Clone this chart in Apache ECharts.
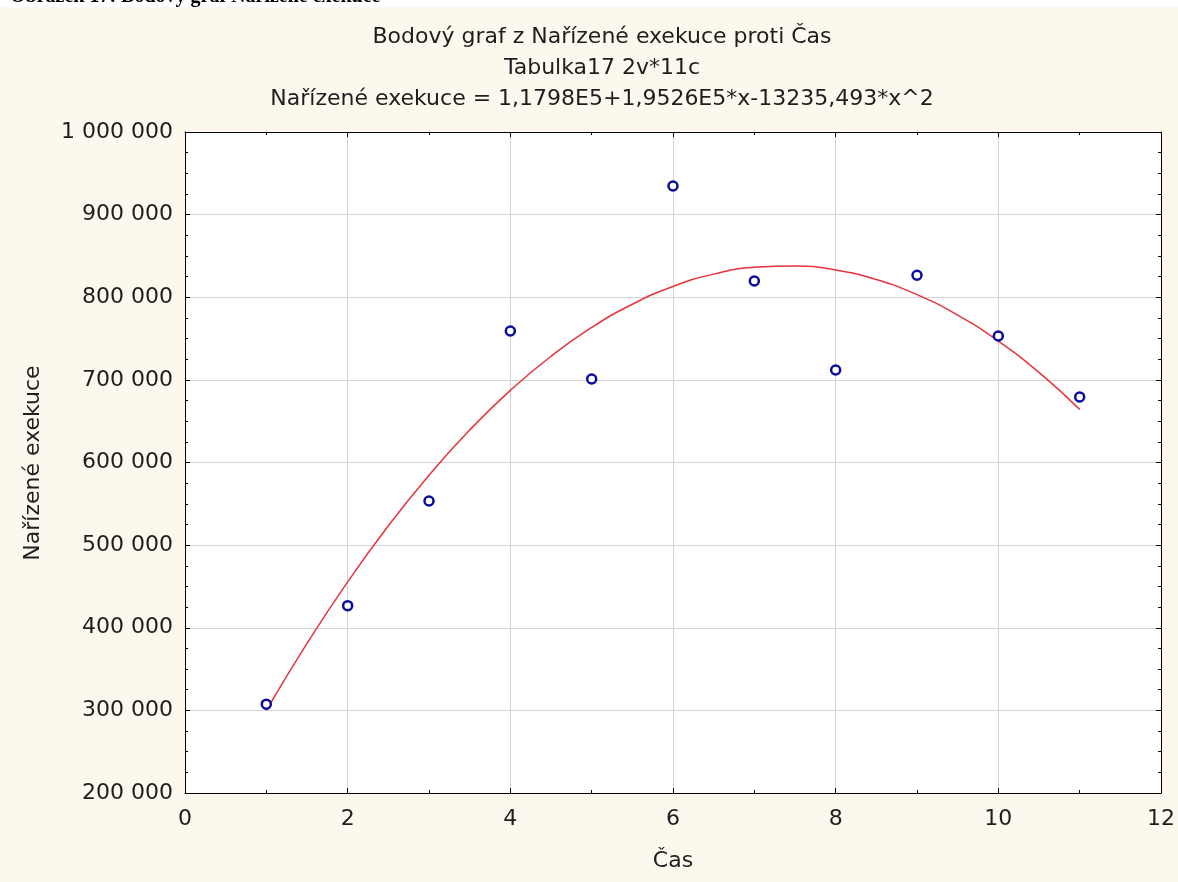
<!DOCTYPE html>
<html>
<head>
<meta charset="utf-8">
<script src="https://cdn.jsdelivr.net/npm/echarts@6/dist/echarts.min.js"></script>
<style>
html,body{margin:0;padding:0;background:#fff;}
#chart{width:1178px;height:882px;}
</style>
</head>
<body>
<div id="chart"></div>
<script>
// Data
const casValues = [1, 2, 3, 4, 5, 6, 7, 8, 9, 10, 11];
const exekuceValues = [307500, 426700, 553400, 759200, 701000, 934600, 819700, 712000, 826600, 753100, 679300];
// Fitted curve (x, y)
const fitX = [1, 1.5, 2, 2.5, 3, 3.5, 4, 4.5, 5, 5.5, 6, 6.5, 7, 7.5, 8, 8.5, 9, 9.5, 10, 10.5, 11];
const fitY = [300000, 381000, 455500, 523400, 584600, 639300, 687300, 728600, 763400, 791500, 813100, 828000, 836300, 837900, 833000, 821400, 803200, 778400, 747000, 709000, 664300];
const titleLines = ['Bodový graf z Nařízené exekuce proti Čas', 'Tabulka17 2v*11c', 'Nařízené exekuce = 1,1798E5+1,9526E5*x-13235,493*x^2'];
const xName = 'Čas';
const yName = 'Nařízené exekuce';
const captionText = 'Obrázek 17: Bodový graf Nařízené exekuce';

const FONT = '"DejaVu Sans", Arial, sans-serif';
const FS = 22;
const TXT = '#1e1e1e';
const fmt = v => String(v).replace(/\B(?=(\d{3})+(?!\d))/g, ' ');

const chart = echarts.init(document.getElementById('chart'));
const tickCommon = {
  axisLine: {show: true, onZero: false, lineStyle: {color: '#000', width: 1}},
  axisTick: {show: true, inside: true, length: 5, lineStyle: {color: '#000'}},
};
const titleGraphics = titleLines.map((t, i) => ({
  type: 'text', x: 602, y: 37 + i * 31,
  style: {text: t, font: FS + 'px ' + FONT, fill: TXT, align: 'center', verticalAlign: 'middle'}
}));
chart.setOption({
  backgroundColor: '#fdf8ee',
  animation: false,
  graphic: [
    {type: 'rect', shape: {x: 0, y: 0, width: 1178, height: 7}, style: {fill: '#ffffff'}, z: 0},
    {type: 'text', x: 10, y: -13, style: {text: captionText, font: 'bold 20px "Liberation Serif", serif', fill: '#000'}, z: 1},
    {type: 'rect', shape: {x: 0, y: 7, width: 1178, height: 4}, style: {fill: '#fdf8ee'}, z: 2},
    ...titleGraphics,
    {type: 'text', x: 33, y: 463, rotation: Math.PI / 2,
     style: {text: yName, font: FS + 'px ' + FONT, fill: TXT, align: 'center', verticalAlign: 'middle'}}
  ],
  grid: {left: 185, right: 13, top: 132, bottom: 89, show: true, backgroundColor: '#ffffff', borderWidth: 0},
  xAxis: [{
    type: 'value', min: 0, max: 12, interval: 2, position: 'bottom',
    name: xName, nameLocation: 'middle', nameGap: 57,
    nameTextStyle: {fontFamily: FONT, fontSize: FS, color: TXT},
    ...tickCommon,
    minorTick: {show: true, splitNumber: 2, length: 3, lineStyle: {color: '#000'}},
    axisLabel: {fontFamily: FONT, fontSize: FS, color: TXT, margin: 15},
    splitLine: {show: true, lineStyle: {color: '#d4d4d4', width: 1}}
  }, {
    type: 'value', min: 0, max: 12, interval: 2, position: 'top',
    ...tickCommon,
    minorTick: {show: true, splitNumber: 2, length: 3, lineStyle: {color: '#000'}},
    axisLabel: {show: false}, splitLine: {show: false}
  }],
  yAxis: [{
    type: 'value', min: 200000, max: 1000000, interval: 100000, position: 'left',
    ...tickCommon,
    minorTick: {show: true, splitNumber: 4, length: 3, lineStyle: {color: '#000'}},
    axisLabel: {fontFamily: FONT, fontSize: FS, color: TXT, margin: 12, formatter: fmt},
    splitLine: {show: true, lineStyle: {color: '#d4d4d4', width: 1}}
  }, {
    type: 'value', min: 200000, max: 1000000, interval: 100000, position: 'right',
    ...tickCommon,
    minorTick: {show: true, splitNumber: 4, length: 3, lineStyle: {color: '#000'}},
    axisLabel: {show: false}, splitLine: {show: false}
  }],
  series: [{
    type: 'line', smooth: true, symbol: 'none',
    data: fitX.map((x, i) => [x, fitY[i]]),
    lineStyle: {color: '#e8333a', width: 1.5}, z: 2
  }, {
    type: 'scatter', symbol: 'circle', symbolSize: 9,
    data: casValues.map((x, i) => [x, exekuceValues[i]]),
    itemStyle: {color: '#ffffff', borderColor: '#0a0a9e', borderWidth: 2.5, opacity: 1}, z: 3
  }]
});
</script>
</body>
</html>
